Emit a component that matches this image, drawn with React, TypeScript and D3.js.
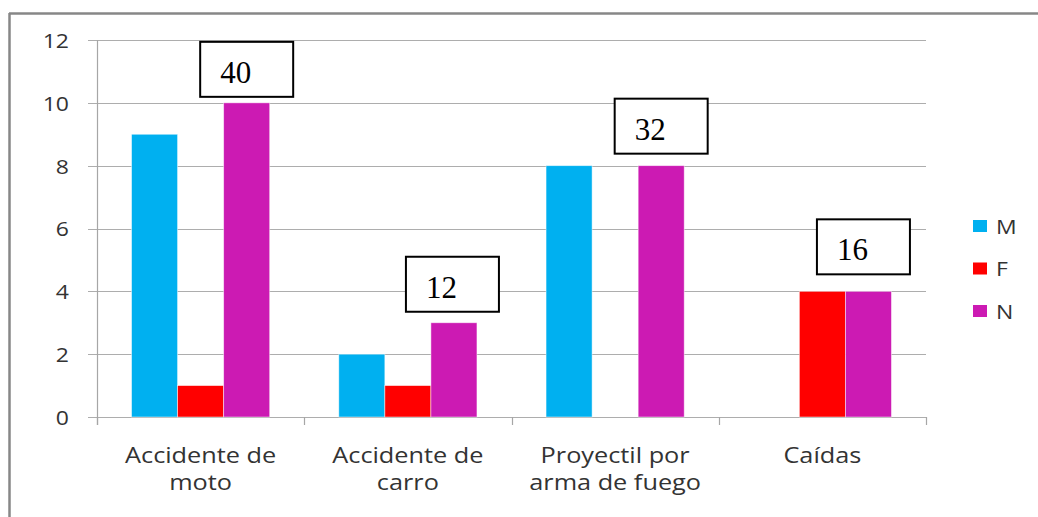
import React, { useEffect, useRef } from "react";
import * as d3 from "d3";

// Causes of trauma, counts per group
const categories: string[][] = [
  ["Accidente de", "moto"],
  ["Accidente de", "carro"],
  ["Proyectil por", "arma de fuego"],
  ["Caídas"],
];
const seriesNames = ["M", "F", "N"];
const valuesM = [9, 2, 8, 0];
const valuesF = [1, 1, 0, 4];
const valuesN = [10, 3, 8, 4];
const yTicks = [0, 2, 4, 6, 8, 10, 12];

const colors: Record<string, string> = { M: "#00B0F0", F: "#FF0000", N: "#CC1AB3" };

// Callout lift above each N bar (px) and small horizontal nudges
const calloutLift = [6, 11, 12, 17];
const calloutDx = [0, -1.5, 0, -5];

const W = 1038;
const H = 517;
// Sans text is drawn slightly wide
const STRETCH = 1.15;

export default function App() {
  const ref = useRef<SVGSVGElement>(null);

  useEffect(() => {
    const svg = d3.select(ref.current);
    svg.selectAll("*").remove();

    const font = "'Open Sans', 'DejaVu Sans', sans-serif";
    const left = 97, right = 926, top = 40, bottom = 417;
    const at = (px: number, py: number) => `translate(${px},${py}) scale(${STRETCH},1)`;

    // Chart frame (only top and left edges visible)
    svg.append("line").attr("x1", 9).attr("x2", W).attr("y1", 13.5).attr("y2", 13.5)
      .attr("stroke", "#878787").attr("stroke-width", 2.5);
    svg.append("line").attr("x1", 9.5).attr("x2", 9.5).attr("y1", 13).attr("y2", H)
      .attr("stroke", "#878787").attr("stroke-width", 2.5);

    const keys = categories.map((c) => c.join(" "));
    const x = d3.scaleBand<string>().domain(keys).range([left, right]).paddingInner(0).paddingOuter(0);
    const xs = d3.scaleBand<string>().domain(seriesNames).range([0, x.bandwidth()]).paddingInner(0).paddingOuter(0.75);
    const y = d3.scaleLinear().domain([0, 12]).range([bottom, top]);

    // Gridlines + left tick marks
    svg.append("g").selectAll("line").data(yTicks).join("line")
      .attr("x1", left - 9).attr("x2", right)
      .attr("y1", (d) => Math.round(y(d)) + 0.5).attr("y2", (d) => Math.round(y(d)) + 0.5)
      .attr("stroke", "#ADADAD").attr("stroke-width", 1.2);

    // Y axis line
    svg.append("line").attr("x1", left + 0.5).attr("x2", left + 0.5).attr("y1", top).attr("y2", bottom + 8)
      .attr("stroke", "#A6A6A6").attr("stroke-width", 1.2);

    // Category tick marks
    const bounds = [...keys.map((k) => x(k)!), right];
    svg.append("g").selectAll("line").data(bounds).join("line")
      .attr("x1", (d) => Math.round(d) + 0.5).attr("x2", (d) => Math.round(d) + 0.5)
      .attr("y1", bottom).attr("y2", bottom + 8)
      .attr("stroke", "#A6A6A6").attr("stroke-width", 1.2);

    // Y tick labels
    svg.append("g").selectAll("text").data(yTicks).join("text")
      .attr("transform", (d) => at(69, y(d)))
      .attr("text-anchor", "end").attr("dominant-baseline", "central")
      .attr("font-family", font).attr("font-size", 20).attr("fill", "#333")
      .text((d) => String(d));

    // Bars
    const series: Record<string, number[]> = { M: valuesM, F: valuesF, N: valuesN };
    const rows = keys.flatMap((k, i) =>
      seriesNames.map((s) => ({ key: k, s, v: series[s][i] }))
    );
    svg.append("g").selectAll("rect").data(rows.filter((r) => r.v > 0)).join("rect")
      .attr("x", (d) => x(d.key)! + xs(d.s)!)
      .attr("y", (d) => y(d.v))
      .attr("width", xs.bandwidth())
      .attr("height", (d) => y(0) - y(d.v))
      .attr("fill", (d) => colors[d.s])
      .attr("stroke", "rgba(255,255,255,0.6)").attr("stroke-width", 0.8);

    // Category labels
    const cat = svg.append("g");
    categories.forEach((lines, i) => {
      const cx = x(keys[i])! + x.bandwidth() / 2;
      lines.forEach((ln, j) => {
        cat.append("text").attr("transform", at(cx, 463 + j * 27))
          .attr("text-anchor", "middle").attr("font-family", font).attr("font-size", 22)
          .attr("fill", "#333").text(ln);
      });
    });

    // Percentage callouts above the N bars
    const totalN = d3.sum(valuesN);
    const boxW = 93, boxH = 55;
    const callouts = svg.append("g");
    keys.forEach((k, i) => {
      const cx = x(k)! + xs("N")! + xs.bandwidth() / 2 + calloutDx[i];
      const by = y(valuesN[i]) - calloutLift[i] - boxH;
      callouts.append("rect").attr("x", cx - boxW / 2).attr("y", by)
        .attr("width", boxW).attr("height", boxH)
        .attr("fill", "#fff").attr("stroke", "#000").attr("stroke-width", 2);
      callouts.append("text").attr("x", cx - boxW / 2 + 20).attr("y", by + 41)
        .attr("font-family", "'Liberation Serif', 'Times New Roman', serif").attr("font-size", 31)
        .attr("fill", "#000").text(String(Math.round((valuesN[i] / totalN) * 100)));
    });

    // Legend
    const lg = svg.append("g");
    seriesNames.forEach((s, i) => {
      const cy = 226 + i * 42.5;
      lg.append("rect").attr("x", 973).attr("y", cy - 6).attr("width", 14).attr("height", 12).attr("fill", colors[s]);
      lg.append("text").attr("transform", at(996, cy)).attr("dominant-baseline", "central")
        .attr("font-family", font).attr("font-size", 20).attr("fill", "#333").text(s);
    });
  }, []);

  return (
    <svg
      ref={ref}
      width={W}
      height={H}
      style={{ position: "fixed", left: 0, top: 0, background: "#fff" }}
    />
  );
}
